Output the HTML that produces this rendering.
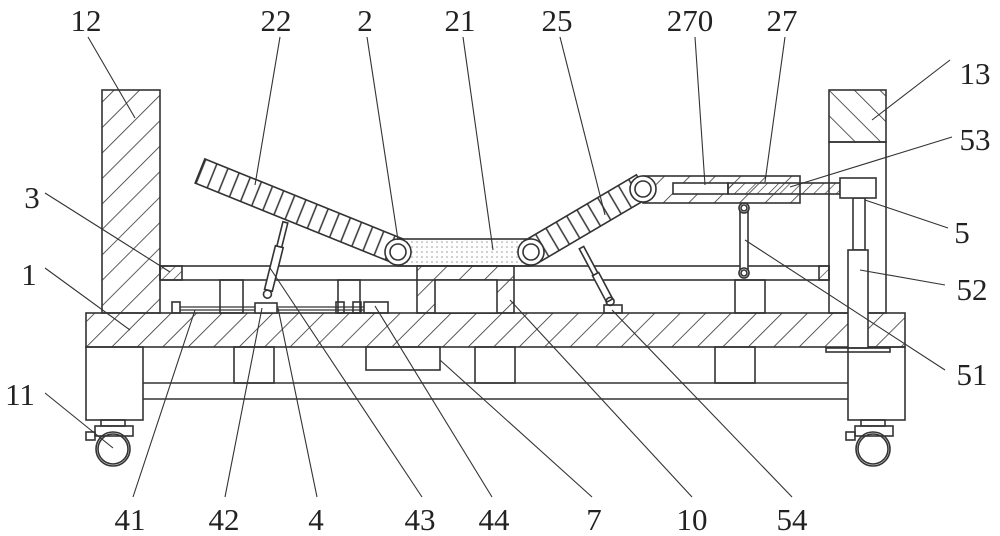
<!DOCTYPE html>
<html><head><meta charset="utf-8"><style>
html,body{margin:0;padding:0;background:#fff;}
svg{display:block}
text{font-family:"Liberation Serif",serif;font-size:31px;fill:#222;}
</style></head><body>
<svg width="1000" height="536" viewBox="0 0 1000 536" xmlns="http://www.w3.org/2000/svg">
<defs>
<pattern id="h" width="18" height="18" patternUnits="userSpaceOnUse" patternTransform="rotate(45)">
<line x1="0" y1="0" x2="0" y2="18" stroke="#333" stroke-width="1.6"/></pattern>
<pattern id="hs" width="8" height="8" patternUnits="userSpaceOnUse" patternTransform="rotate(45)">
<line x1="0" y1="0" x2="0" y2="8" stroke="#333" stroke-width="1.3"/></pattern>
<pattern id="hb" width="18" height="18" patternUnits="userSpaceOnUse" patternTransform="rotate(-45)">
<line x1="0" y1="0" x2="0" y2="18" stroke="#333" stroke-width="1.6"/></pattern>
<pattern id="dots" width="5" height="5" patternUnits="userSpaceOnUse">
<circle cx="2" cy="2" r="0.8" fill="#999"/></pattern>
<pattern id="st" width="12" height="40" patternUnits="userSpaceOnUse">
<line x1="1" y1="0" x2="1" y2="40" stroke="#333" stroke-width="1.5"/></pattern>
</defs>
<g fill="none" stroke="#333" stroke-width="1.6">
<rect x="86" y="347" width="57" height="73"/>
<rect x="848" y="347" width="57" height="73"/>
<line x1="143" y1="383" x2="848" y2="383"/>
<line x1="143" y1="399" x2="848" y2="399"/>
<rect x="234" y="347" width="40" height="36"/>
<rect x="475" y="347" width="40" height="36"/>
<rect x="715" y="347" width="40" height="36"/>
<rect x="366" y="347" width="74" height="23"/>
<rect x="101" y="420" width="24" height="6"/><rect x="95" y="426" width="38" height="10"/><rect x="86" y="432" width="9" height="8"/>
<circle cx="113" cy="449" r="17"/><circle cx="113" cy="449" r="15"/>
<rect x="861" y="420" width="24" height="6"/><rect x="855" y="426" width="38" height="10"/><rect x="846" y="432" width="9" height="8"/>
<circle cx="873" cy="449" r="17"/><circle cx="873" cy="449" r="15"/>
<rect x="86" y="313" width="819" height="34" fill="url(#h)"/>
<rect x="102" y="90" width="58" height="223" fill="url(#h)"/>
<rect x="829" y="90" width="57" height="52" fill="url(#hb)"/>
<rect x="829" y="142" width="57" height="171"/>
<rect x="160" y="266" width="669" height="14"/>
<rect x="160" y="266" width="22" height="14" fill="url(#hs)"/>
<rect x="819" y="266" width="10" height="14" fill="url(#hs)"/>
<rect x="220" y="280" width="23" height="33"/>
<rect x="338" y="280" width="22" height="33"/>
<rect x="735" y="280" width="30" height="33"/>
<rect x="417" y="266" width="97" height="47" fill="url(#h)"/>
<rect x="435" y="280" width="62" height="33" fill="#fff"/>
<rect x="172" y="302" width="8" height="11"/>
<line x1="180" y1="307" x2="364" y2="307" stroke-width="1.3"/>
<line x1="180" y1="310" x2="364" y2="310" stroke-width="1.3"/>
<rect x="255" y="303" width="22" height="10" fill="#fff"/>
<rect x="336" y="302" width="8" height="11"/>
<rect x="353" y="302" width="8" height="11"/>
<rect x="364" y="302" width="24" height="11"/>
<g transform="translate(266,300) rotate(14)">
<rect x="-4" y="-55" width="8" height="45" fill="#fff"/>
<rect x="-2.5" y="-80" width="5" height="25" fill="#fff"/>
<circle cx="0" cy="-6" r="4"/>
</g>
<g transform="translate(612,305) rotate(-28)">
<rect x="-2.5" y="-65" width="5" height="35" fill="#fff"/>
<rect x="-3.5" y="-35" width="7" height="30" fill="#fff"/>
<circle cx="0" cy="-4" r="4"/>
</g>
<rect x="604" y="305" width="18" height="8"/>
<rect x="740" y="207" width="8" height="66" fill="#fff"/>
<circle cx="744" cy="208" r="5" fill="#fff"/><circle cx="744" cy="208" r="3"/>
<circle cx="744" cy="273" r="5" fill="#fff"/><circle cx="744" cy="273" r="3"/>
<rect x="853" y="198" width="12" height="52"/>
<rect x="848" y="250" width="20" height="98" fill="#fff"/>
<rect x="826" y="348" width="64" height="4"/>
<g transform="translate(200,171) rotate(22)">
<rect x="0" y="-13" width="214" height="26" fill="url(#st)"/>
</g>
<rect x="398" y="239" width="133" height="27" fill="url(#dots)"/>
<g transform="translate(531,252) rotate(-30.5)">
<rect x="0" y="-13" width="130" height="26" fill="url(#st)"/>
</g>
<rect x="643" y="176" width="157" height="27" fill="url(#h)"/>
<rect x="673" y="183" width="55" height="11" fill="#fff"/>
<rect x="728" y="183" width="112" height="11" fill="url(#hs)"/>
<rect x="840" y="178" width="36" height="20" fill="#fff"/>
<circle cx="398" cy="252" r="13" fill="#fff"/><circle cx="398" cy="252" r="8"/>
<circle cx="531" cy="252" r="13" fill="#fff"/><circle cx="531" cy="252" r="8"/>
<circle cx="643" cy="189" r="13" fill="#fff"/><circle cx="643" cy="189" r="8"/>
<g stroke-width="1.1">
<line x1="88" y1="37" x2="135" y2="118"/>
<line x1="280" y1="37" x2="255" y2="185"/>
<line x1="367" y1="37" x2="398" y2="240"/>
<line x1="463" y1="37" x2="493" y2="250"/>
<line x1="560" y1="37" x2="605" y2="215"/>
<line x1="695" y1="37" x2="705" y2="185"/>
<line x1="785" y1="37" x2="765" y2="182"/>
<line x1="950" y1="60" x2="872" y2="120"/>
<line x1="952" y1="137" x2="790" y2="187"/>
<line x1="948" y1="228" x2="865" y2="200"/>
<line x1="945" y1="285" x2="860" y2="270"/>
<line x1="945" y1="370" x2="745" y2="240"/>
<line x1="45" y1="193" x2="170" y2="272"/>
<line x1="45" y1="268" x2="130" y2="330"/>
<line x1="45" y1="393" x2="113" y2="448"/>
<line x1="133" y1="497" x2="195" y2="310"/>
<line x1="225" y1="497" x2="262" y2="308"/>
<line x1="317" y1="497" x2="278" y2="308"/>
<line x1="422" y1="497" x2="270" y2="268"/>
<line x1="492" y1="497" x2="375" y2="306"/>
<line x1="592" y1="497" x2="440" y2="360"/>
<line x1="692" y1="497" x2="510" y2="300"/>
<line x1="792" y1="497" x2="612" y2="310"/>
</g>
</g>
<g text-anchor="middle">
<text x="86" y="31">12</text><text x="276" y="31">22</text><text x="365" y="31">2</text>
<text x="460" y="31">21</text><text x="557" y="31">25</text><text x="690" y="31">270</text>
<text x="782" y="31">27</text><text x="975" y="84">13</text><text x="975" y="150">53</text>
<text x="962" y="243">5</text><text x="972" y="300">52</text><text x="972" y="385">51</text>
<text x="32" y="208">3</text><text x="29" y="285">1</text><text x="20" y="405">11</text>
<text x="130" y="530">41</text><text x="224" y="530">42</text><text x="316" y="530">4</text>
<text x="420" y="530">43</text><text x="494" y="530">44</text><text x="594" y="530">7</text>
<text x="692" y="530">10</text><text x="792" y="530">54</text>
</g>
</svg>
</body></html>
